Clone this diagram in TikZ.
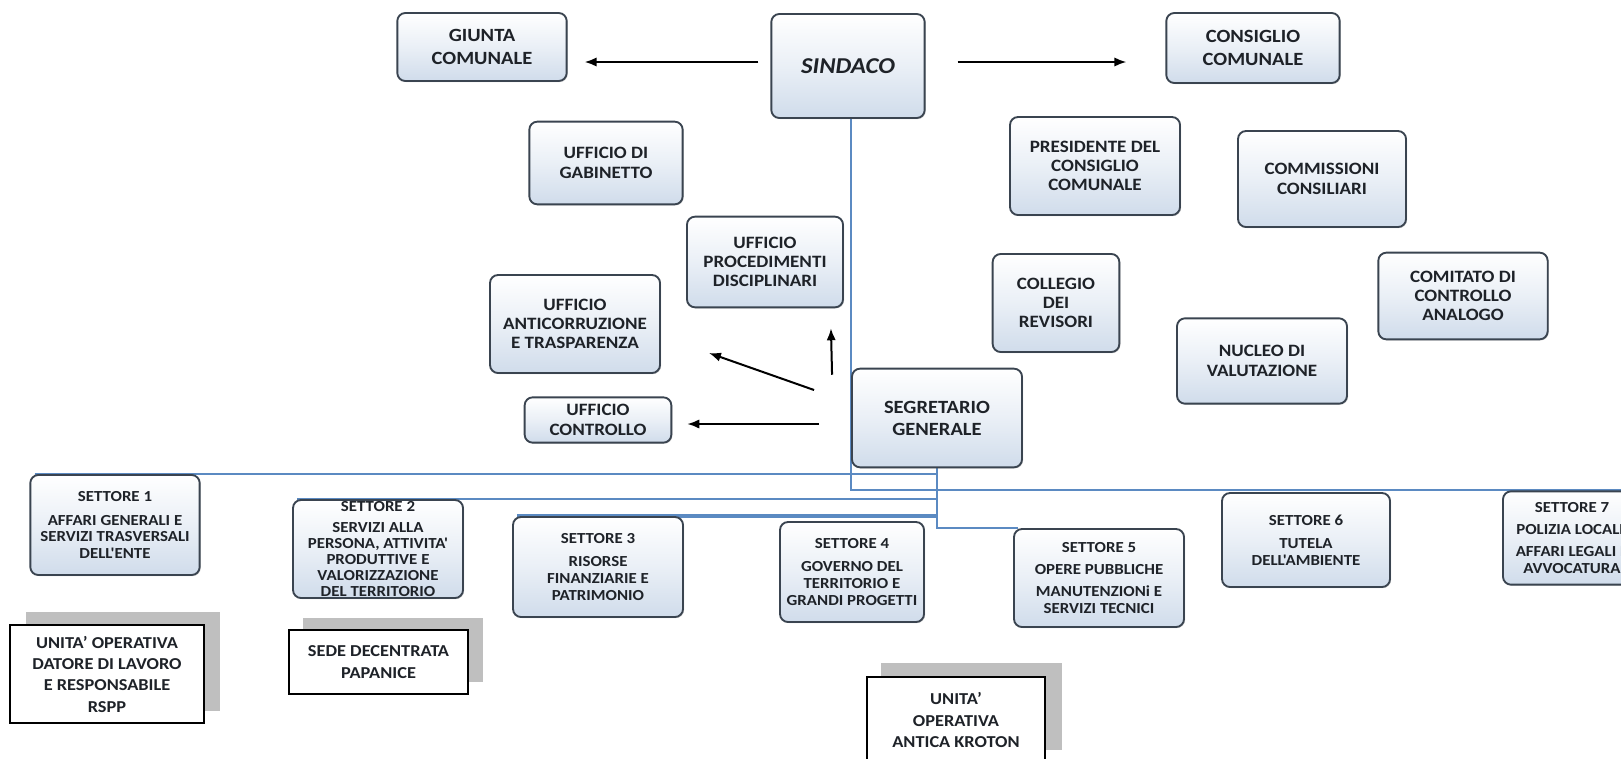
\documentclass[tikz,border=0pt]{standalone}
\usepackage{fontspec}
\newfontfamily\orgfont[FakeStretch=1.1]{Carlito}
\usetikzlibrary{arrows.meta,shadows}
\pgfdeclarelayer{background}
\pgfsetlayers{background,main}

\definecolor{lineablu}{HTML}{5B8AC2}
\definecolor{bordo}{HTML}{3A4450}
\definecolor{fondo}{HTML}{D0DCEB}
\definecolor{ombragrigia}{HTML}{BFBFBF}
\definecolor{testo}{HTML}{1E2228}

\tikzset{
  ufficio/.style={draw=bordo, line width=1.4pt, rounded corners=6pt,
    top color=white, bottom color=fondo, middle color=white!55!fondo,
    drop shadow={shadow xshift=0.8pt, shadow yshift=-0.8pt, opacity=0.35},
    text=testo, align=center, inner sep=1pt,
    font=\orgfont\bfseries\fontsize{13}{14.5}\selectfont},
  organo/.style={ufficio, font=\orgfont\bfseries\fontsize{14}{17}\selectfont},
  settore/.style={ufficio, font=\orgfont\bfseries\fontsize{11.5}{12.5}\selectfont},
  unita/.style={draw=black, line width=1.2pt, fill=white, text=testo, align=center,
    font=\orgfont\bfseries\fontsize{12.5}{16}\selectfont},
  collegamento/.style={draw=lineablu, line width=1.6pt},
  freccia/.style={draw=black, line width=1.5pt, -{Latex[length=9pt,width=7pt]}},
}

\begin{document}
\begin{tikzpicture}[x=0.75pt, y=-0.75pt]
  \useasboundingbox (0,0) rectangle (1621,758);

  % organi di governo
  \node[organo, minimum width=127pt, minimum height=51pt] (giunta) at (482,47) {GIUNTA\\COMUNALE};
  \node[organo, minimum width=115pt, minimum height=78pt,
    font=\orgfont\bfseries\itshape\fontsize{17}{20}\selectfont] (sindaco) at (848,66) {SINDACO};
  \node[organo, minimum width=130pt, minimum height=52.5pt] (consiglio) at (1253,48) {CONSIGLIO\\COMUNALE};

  % uffici
  \node[ufficio, minimum width=115pt, minimum height=62pt] (gabinetto) at (606,163) {UFFICIO DI\\GABINETTO};
  \node[ufficio, minimum width=127.5pt, minimum height=73.5pt] (presidente) at (1095,166) {PRESIDENTE DEL\\CONSIGLIO\\COMUNALE};
  \node[ufficio, minimum width=126pt, minimum height=72pt] (commissioni) at (1322,179) {COMMISSIONI\\CONSILIARI};
  \node[ufficio, minimum width=117pt, minimum height=68pt] (procedimenti) at (765,262) {UFFICIO\\PROCEDIMENTI\\DISCIPLINARI};
  \node[ufficio, minimum width=95pt, minimum height=73.5pt] (collegio) at (1056,303) {COLLEGIO\\DEI\\REVISORI};
  \node[ufficio, minimum width=127pt, minimum height=65pt] (comitato) at (1463,296) {COMITATO DI\\CONTROLLO\\ANALOGO};
  \node[ufficio, minimum width=127.5pt, minimum height=73.5pt] (anticorruzione) at (575,324) {UFFICIO\\ANTICORRUZIONE\\E TRASPARENZA};
  \node[ufficio, minimum width=127.5pt, minimum height=64pt] (nucleo) at (1262,361) {NUCLEO DI\\VALUTAZIONE};
  \node[ufficio, minimum width=110pt, minimum height=34pt] (controllo) at (598,420) {UFFICIO\\CONTROLLO};
  \node[ufficio, minimum width=127.5pt, minimum height=74pt,
    font=\orgfont\bfseries\fontsize{14}{16.5}\selectfont] (segretario) at (937,418) {SEGRETARIO\\GENERALE};

  % settori
  \node[settore, minimum width=127pt, minimum height=75pt] (settore1) at (115,525)
    {SETTORE 1\\[5pt]AFFARI GENERALI E\\SERVIZI TRASVERSALI\\DELL'ENTE};
  \node[settore, minimum width=127.5pt, minimum height=73.5pt, inner sep=0pt,
    font=\orgfont\bfseries\fontsize{11.5}{12}\selectfont] (settore2) at (378,549)
    {SETTORE 2\\[4pt]SERVIZI ALLA\\PERSONA, ATTIVITA'\\PRODUTTIVE E\\VALORIZZAZIONE\\DEL TERRITORIO};
  \node[settore, minimum width=127.5pt, minimum height=75pt] (settore3) at (598,567)
    {SETTORE 3\\[5pt]RISORSE\\FINANZIARIE E\\PATRIMONIO};
  \node[settore, minimum width=108pt, minimum height=75pt] (settore4) at (852,572)
    {SETTORE 4\\[5pt]GOVERNO DEL\\TERRITORIO E\\GRANDI PROGETTI};
  \node[settore, minimum width=127.5pt, minimum height=73.5pt] (settore5) at (1099,578)
    {SETTORE 5\\[4pt]OPERE PUBBLICHE\\[4pt]MANUTENZIONi E\\SERVIZI TECNICI};
  \node[settore, minimum width=126pt, minimum height=70.5pt] (settore6) at (1306,540)
    {SETTORE 6\\[5pt]TUTELA\\DELL'AMBIENTE};
  \node[settore, minimum width=103.5pt, minimum height=70pt] (settore7) at (1572,538)
    {SETTORE 7\\[4pt]POLIZIA LOCALE\\[4pt]AFFARI LEGALI E\\AVVOCATURA};

  % unita operative
  \node[unita, minimum width=145.5pt, minimum height=73.5pt] (datore) at (107,674)
    {UNITA’ OPERATIVA\\DATORE DI LAVORO\\E RESPONSABILE\\RSPP};
  \node[unita, minimum width=134pt, minimum height=48pt] (sede) at (378.5,662)
    {SEDE DECENTRATA\\PAPANICE};
  \node[unita, minimum width=133.5pt, minimum height=64.5pt] (kroton) at (956,720)
    {UNITA’\\OPERATIVA\\ANTICA KROTON};

  \begin{pgfonlayer}{background}
    \fill[white] (0,0) rectangle (1621,758);
    % ombre
    \fill[ombragrigia] (26,612) rectangle (220,711);
    \fill[ombragrigia] (303,618) rectangle (483,682);
    \fill[ombragrigia] (881,663) rectangle (1062,750);
    % linee blu
    \draw[collegamento] ([xshift=2.5pt]sindaco.south) -- ([xshift=2.5pt]sindaco.south |- settore7.north) -- (settore7.north east);
    \draw[collegamento] (segretario.south) -- (segretario.south |- settore5.north) -- ([xshift=4pt]settore5.north west);
    \draw[collegamento] ([xshift=4pt]settore1.north west) -- (segretario.south |- settore1.north);
    \draw[collegamento] ([xshift=4pt]settore2.north west) -- (segretario.south |- settore2.north);
    \draw[collegamento, line width=2.6pt] ([xshift=4pt]settore3.north west) -- (segretario.south |- settore3.north);
  \end{pgfonlayer}

  % frecce
  \draw[freccia] ([shift={(-12,-4)}]sindaco.west) -- ([shift={(17,15)}]giunta.east);
  \draw[freccia] ([shift={(32,-4)}]sindaco.east) -- ([shift={(-39,14)}]consiglio.west);
  \draw[freccia] ([shift={(-37,-28)}]segretario.west) -- ([shift={(48,29)}]anticorruzione.east);
  \draw[freccia] ([shift={(-19,7)}]segretario.north west) -- ([shift={(-13,20)}]procedimenti.south east);
  \draw[freccia] ([shift={(-32,6)}]segretario.west) -- ([shift={(15,4)}]controllo.east);
\end{tikzpicture}
\end{document}
